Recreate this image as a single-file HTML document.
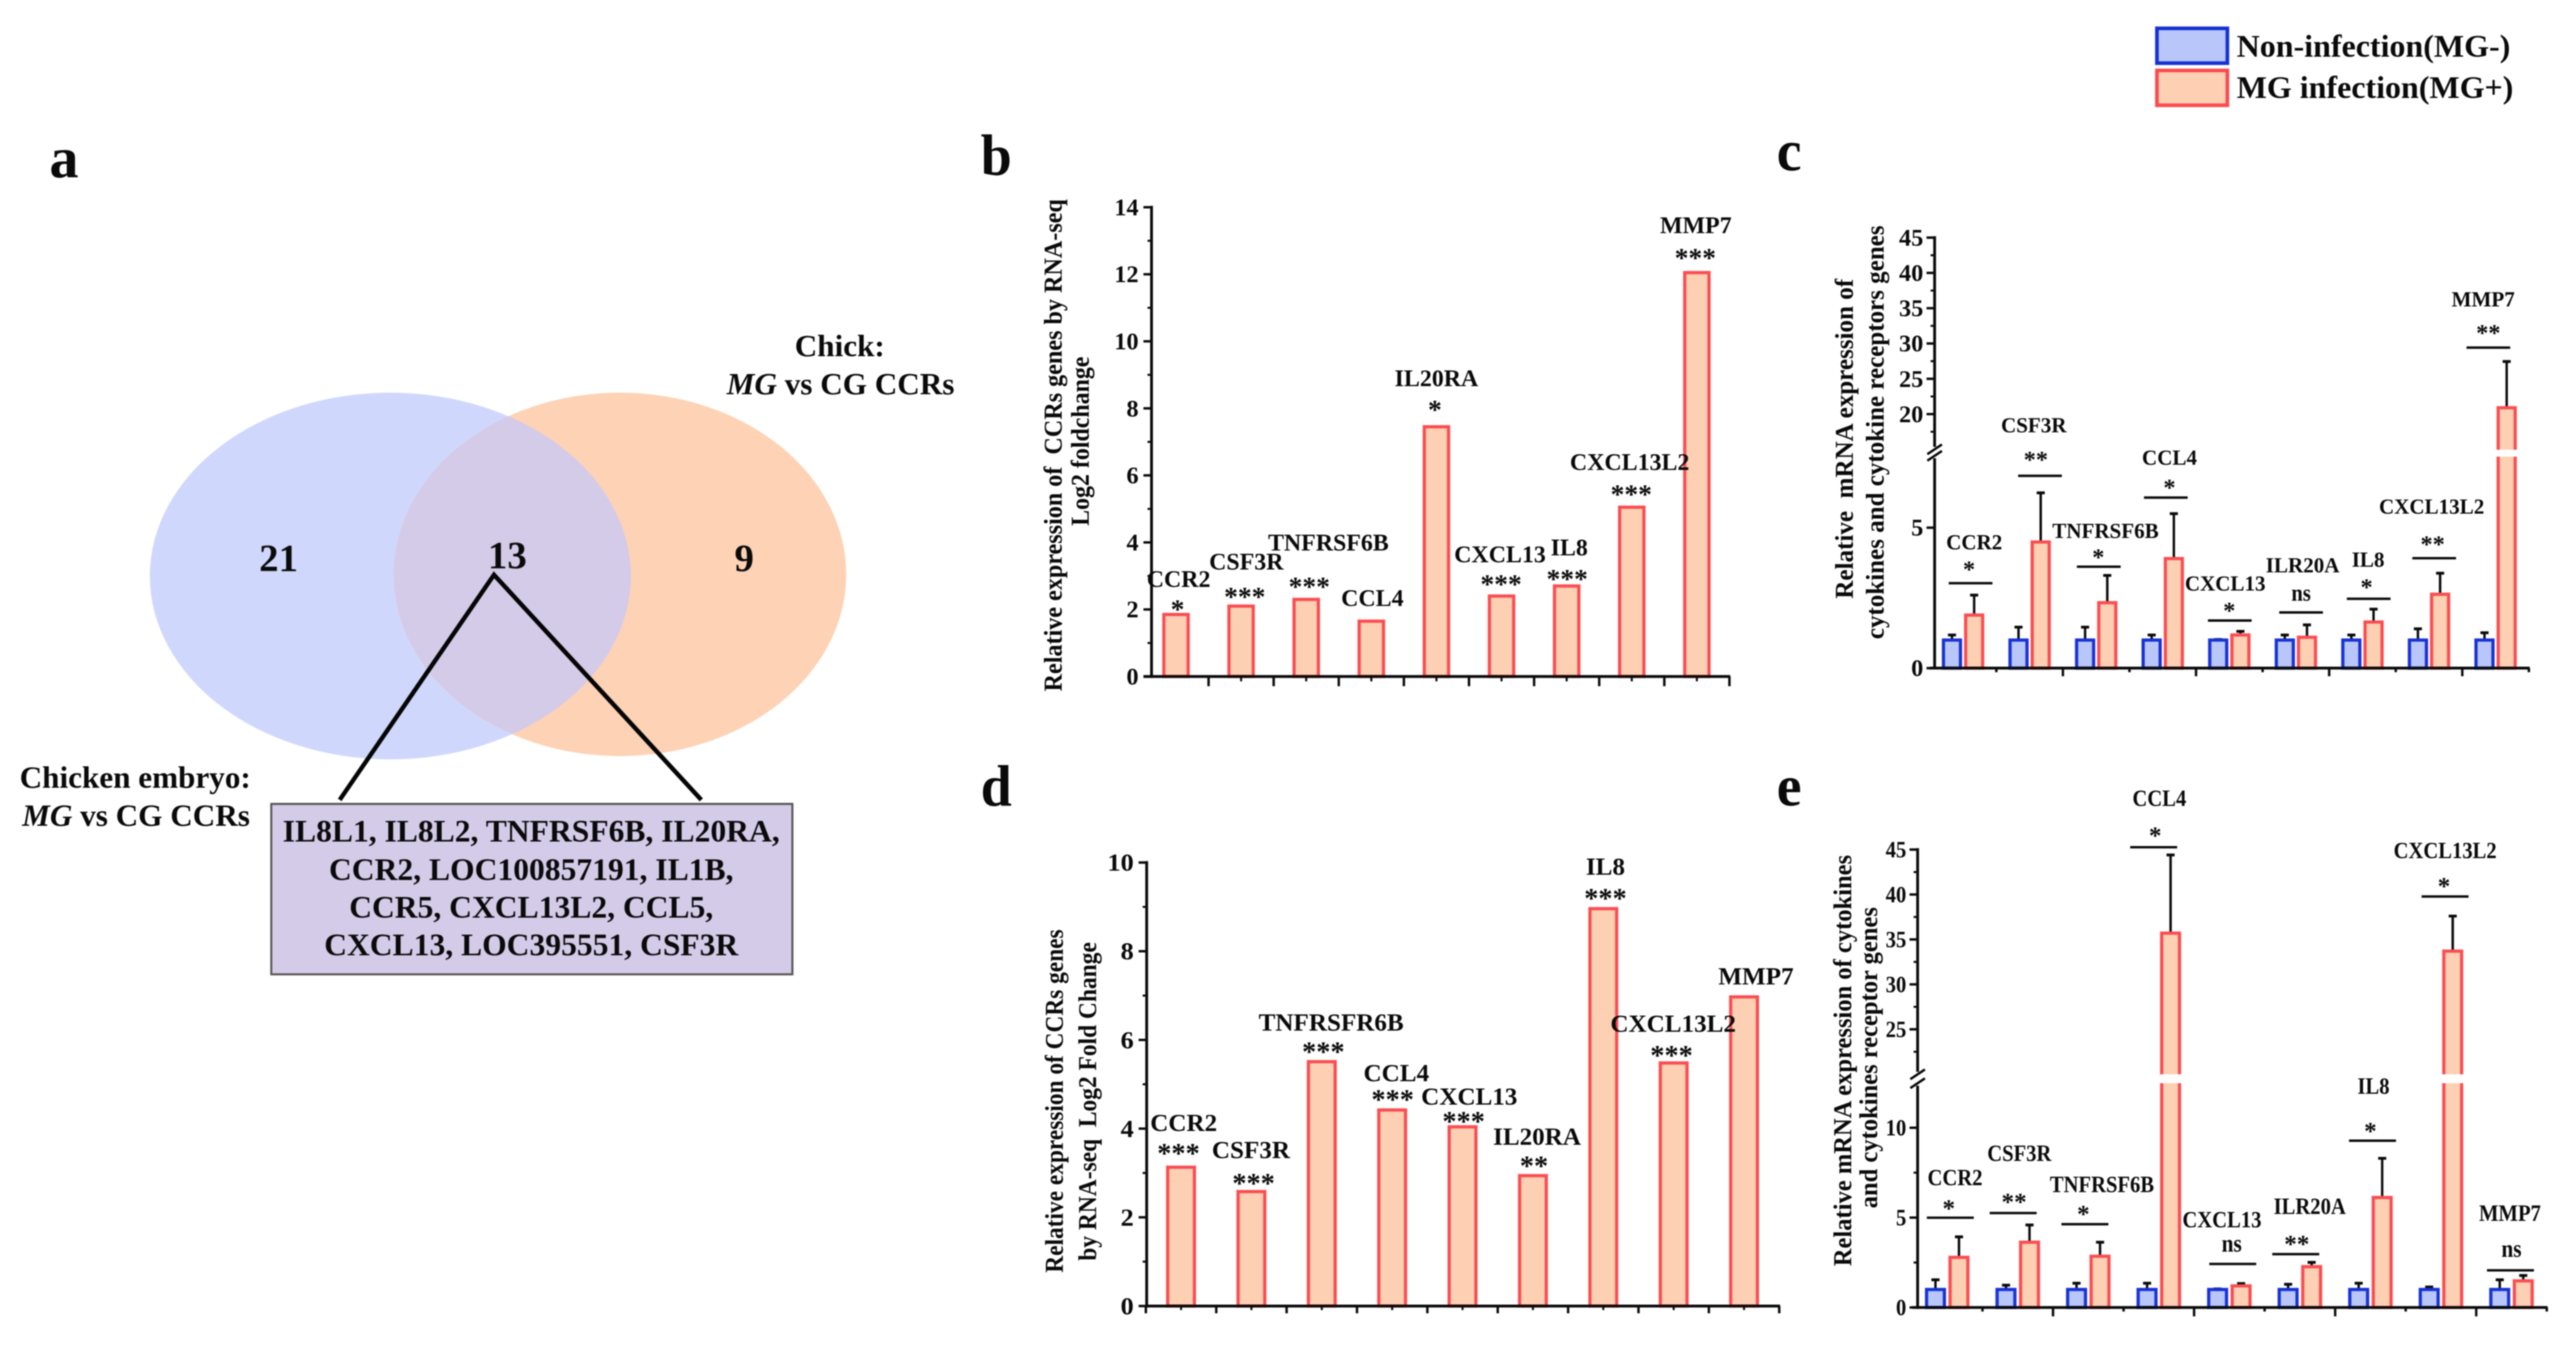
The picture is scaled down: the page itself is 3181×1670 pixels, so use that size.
<!DOCTYPE html>
<html lang="en">
<head>
<meta charset="utf-8">
<title>CCR gene expression figure</title>
<style>
html,body{margin:0;padding:0;background:#fff;width:3181px;height:1670px;overflow:hidden;}
#figure{display:block;width:3181px;height:1670px;filter:blur(0.8px);}
text{font-family:"Liberation Serif",serif;font-weight:bold;fill:#0a0a0a;white-space:pre;}
</style>
</head>
<body>
<svg id="figure" xmlns="http://www.w3.org/2000/svg" width="3181" height="1670" viewBox="0 0 3181 1670">
  <defs>
    <clipPath id="blue-clip"><ellipse cx="482" cy="711.5" rx="297" ry="226.5"/></clipPath>
  </defs>
  <rect width="3181" height="1670" fill="#fff"/>

  <g>
    <text x="61" y="219" font-size="72">a</text>
    <ellipse cx="482" cy="711.5" rx="297" ry="226.5" fill="#cfd8fc"/>
    <ellipse cx="765.5" cy="709.5" rx="279.5" ry="224.5" fill="#fdd2b5"/>
    <ellipse cx="765.5" cy="709.5" rx="279.5" ry="224.5" fill="#d4cbe8" clip-path="url(#blue-clip)"/>
    <text x="344" y="705.6" font-size="48" text-anchor="middle">21</text>
    <text x="626.5" y="702" font-size="48" text-anchor="middle">13</text>
    <text x="919" y="705.6" font-size="48" text-anchor="middle">9</text>
    <polyline points="419.5,988 610,710 866,988" fill="none" stroke="#050505" stroke-width="5.5"/>
    <text x="1037" y="440" font-size="38.5" text-anchor="middle">Chick:</text>
    <text x="1038" y="487" font-size="38.5" text-anchor="middle"><tspan font-style="italic">MG</tspan> vs CG CCRs</text>
    <text x="167" y="973" font-size="38.5" text-anchor="middle">Chicken embryo:</text>
    <text x="168" y="1020" font-size="38.5" text-anchor="middle"><tspan font-style="italic">MG</tspan> vs CG CCRs</text>
    <rect x="335" y="993" width="643.5" height="210.5" fill="#d4cbe8" stroke="#555" stroke-width="2.5"/>
    <g>
      <text x="656" y="1039.5" font-size="39" text-anchor="middle">IL8L1, IL8L2, TNFRSF6B, IL20RA,</text>
      <text x="656" y="1087" font-size="39" text-anchor="middle">CCR2, LOC100857191, IL1B,</text>
      <text x="656" y="1133.5" font-size="39" text-anchor="middle">CCR5, CXCL13L2, CCL5,</text>
      <text x="656" y="1180" font-size="39" text-anchor="middle">CXCL13, LOC395551, CSF3R</text>
    </g>
  </g>

  <g>
    <rect x="2663.5" y="35" width="87" height="43" fill="#b8c6fa" stroke="#1531d2" stroke-width="4.5"/>
    <text x="2762" y="70" font-size="39.5">Non-infection(MG-)</text>
    <rect x="2663.5" y="87" width="87" height="43" fill="#fdd0b3" stroke="#fb4a50" stroke-width="4.5"/>
    <text x="2762" y="121" font-size="39.5">MG infection(MG+)</text>
  </g>

  <g id="charts"></g>
</svg>

<script>
// ---------- chart data ----------
const bCategories = ['CCR2','CSF3R','TNFRSF6B','CCL4','IL20RA','CXCL13','IL8','CXCL13L2','MMP7'];
const bValues = [1.85,2.1,2.3,1.65,7.45,2.4,2.7,5.05,12.05];
const bStars = ['*','***','***','','*','***','***','***','***'];
const bTicks = [0,2,4,6,8,10,12,14];

const dCategories = ['CCR2','CSF3R','TNFRSFR6B','CCL4','CXCL13','IL20RA','IL8','CXCL13L2','MMP7'];
const dValues = [3.13,2.58,5.51,4.42,4.04,2.94,8.96,5.48,6.97];
const dStars = ['***','***','***','***','***','**','***','***',''];
const dTicks = [0,2,4,6,8,10];

const cCategories = ['CCR2','CSF3R','TNFRSF6B','CCL4','CXCL13','ILR20A','IL8','CXCL13L2','MMP7'];
const cControl = [1,1,1,1,1,1,1,1,1];
const cControlErrTop = [1.18,1.46,1.46,1.18,1.02,1.18,1.18,1.4,1.26];
const cInfected = [1.89,4.49,2.33,3.9,1.18,1.1,1.64,2.63,20.9];
const cInfectedErrTop = [2.6,6.24,3.3,5.5,1.31,1.54,2.1,3.38,27.45];
const cStars = ['*','**','*','*','*','ns','*','**','**'];
const cTicks = [0,5,20,25,30,35,40,45];

const eCategories = ['CCR2','CSF3R','TNFRSF6B','CCL4','CXCL13','ILR20A','IL8','CXCL13L2','MMP7'];
const eControl = [1,1,1,1,1,1,1,1,1];
const eControlErrTop = [1.54,1.24,1.35,1.35,1.03,1.29,1.35,1.14,1.54];
const eInfected = [2.79,3.63,2.85,35.7,1.2,2.27,6.12,33.7,1.48];
const eInfectedErrTop = [3.93,4.59,3.63,44.4,1.33,2.51,8.3,37.6,1.78];
const eStars = ['*','**','*','*','ns','**','*','*','ns'];
const eTicks = [0,5,10,25,30,35,40,45];

// ---------- annotation placement (hand-placed offsets from each mark, not data) ----------
const bNoteOffsets = [
  {sx:1.9,sy:11.5,lx:3.2,ly:33.8},{sx:4.5,sy:16.6,lx:6.4,ly:45.3},{sx:3.8,sy:21,lx:27.4,ly:60.6},
  {sx:0,sy:0,lx:1.3,ly:19},{sx:-1.9,sy:26,lx:0,ly:50.4},{sx:-0.6,sy:19.8,lx:-1.9,ly:41.5},
  {sx:0.6,sy:14,lx:3.2,ly:37.6},{sx:-0.6,sy:21,lx:-2.6,ly:46},{sx:-1.9,sy:23,lx:-1.3,ly:48.5}];
const dNoteOffsets = [
  {sx:-3.2,sy:22.3,lx:3.2,ly:44.6},{sx:2.6,sy:15.3,lx:-0.6,ly:41.5},{sx:1.9,sy:17.2,lx:11.5,ly:38.3},
  {sx:0.6,sy:17.9,lx:5.1,ly:35.7},{sx:1.3,sy:12,lx:8.3,ly:27.4},{sx:1.3,sy:17.2,lx:5.1,ly:38.3},
  {sx:2.6,sy:17.9,lx:2.6,ly:42},{sx:-2.6,sy:14.7,lx:-0.6,ly:38.3},{sx:0,sy:0,lx:14.7,ly:15.3}];
const cNoteOffsets = [
  {bx:9.3,by:14.7,sx:7.4,sy:21.7,lx:13.8,ly:42},{bx:12.8,by:21,sx:7.7,sy:24.2,lx:5.1,ly:53.6},
  {bx:3.2,by:10.8,sx:2.6,sy:16,lx:11.5,ly:35.7},{bx:3.8,by:19.8,sx:8.3,sy:16.6,lx:8.3,ly:40.8},
  {bx:0.6,by:13.4,sx:0,sy:16.6,lx:-5.1,ly:37},{bx:6.4,by:15.3,sx:6.4,sy:21,lx:8.3,ly:49.7},
  {bx:7.7,by:12.8,sx:5.1,sy:18.5,lx:7,ly:39.5},{bx:6.4,by:18.5,sx:4.5,sy:21.7,lx:3.2,ly:54.8},
  {bx:-8.9,by:17.2,sx:-8.9,sy:22.3,lx:-15.3,ly:51}];
const eNoteOffsets = [
  {bx:3.8,by:23.6,sx:1.9,sy:16,lx:9.6,ly:40},{bx:-5.7,by:14.7,sx:-4.5,sy:18.5,lx:1.9,ly:64.4},
  {bx:-4.2,by:22.3,sx:-6.1,sy:17.2,lx:16.9,ly:39.5},{bx:-6.4,by:9.6,sx:-4.5,sy:19,lx:0.6,ly:51},
  {bx:4.2,by:24.2,sx:2.9,sy:22.3,lx:-9.2,ly:45.3},{bx:-5.1,by:10.2,sx:-3.8,sy:17.2,lx:12.1,ly:49.7},
  {bx:2.6,by:21.7,sx:0,sy:16.6,lx:3.8,ly:58},{bx:5.1,by:24.2,sx:3.8,sy:17.2,lx:5.1,ly:47.2},
  {bx:-1.3,by:6.4,sx:0,sy:23.6,lx:-1.9,ly:61.2}];

// ---------- drawing helpers ----------
const SVGNS = 'http://www.w3.org/2000/svg';
const RED = '#fb4d52', PEACH = '#fdd0b3', BLUE = '#1733d6', PERI = '#b8c6fa', INK = '#0a0a0a';
const root = document.getElementById('charts');

function add(parent, tag, attrs) {
  const el = document.createElementNS(SVGNS, tag);
  for (const k in attrs) el.setAttribute(k, attrs[k]);
  parent.appendChild(el);
  return el;
}
function addLine(parent, x1, y1, x2, y2, w, color) {
  return add(parent, 'line', {x1:x1, y1:y1, x2:x2, y2:y2, stroke:color || INK, 'stroke-width':w});
}
function addText(parent, x, y, str, size, squeeze, anchor) {
  const el = add(parent, 'text', {
    transform:'translate(' + x + ' ' + y + ') scale(' + squeeze + ' 1)',
    'font-size':size, 'text-anchor':anchor || 'middle'
  });
  el.textContent = str;
  return el;
}
function slug(s) { return String(s).toLowerCase().replace(/[^a-z0-9]+/g, '-'); }

function linearY(y0, pxPerUnit) { return function (v) { return y0 - v * pxPerUnit; }; }
function brokenY(cfg) {
  return function (v) {
    if (v <= cfg.lowMax) return cfg.y0 - v * cfg.lowK;
    return cfg.refY - (v - cfg.refV) * cfg.highK;
  };
}
function bandCenter(p, i, frac) { return p.x0 + p.band * (i + frac); }

function drawLetter(ch, x, y) {
  const t = addText(root, x, y, ch, 72, 0.96, 'start');
  
  
}

function drawTitle(g, str, x, y, len, size, idx) {
  const t = add(g, 'text', {
    transform:'translate(' + x + ' ' + y + ') rotate(-90)',
    'font-size':size, 'text-anchor':'middle', textLength:len, lengthAdjust:'spacingAndGlyphs'
  });
  t.textContent = str;
  
  
}

function drawAxes(g, p, y, ticks) {
  const axis = add(g, 'g', {});
  
  
  const w = p.axisW;
  // x axis
  const xa = addLine(axis, p.x0, p.y0, p.x0 + p.band * 9 + 1, p.y0, w);
  
  
  // y axis
  if (p.brk) {
    const lowSeg = addLine(axis, p.axisX, p.y0 + w / 2, p.axisX, p.brk.axisLowTop, w);
    
    
    const highSeg = addLine(axis, p.axisX, p.brk.axisHighBottom, p.axisX, y(p.yMax) - w / 2, w);
    
    
    [p.brk.axisHighBottom + 3, p.brk.axisLowTop - 3].forEach(function (yy) {
      const sl = addLine(axis, p.axisX - 9, yy + 6, p.axisX + 9, yy - 6, 3);
      
      
    });
  } else {
    const ya = addLine(axis, p.axisX, p.y0 + w / 2, p.axisX, y(p.yMax) - w / 2, w);
    
    
  }
  // y ticks and labels
  ticks.forEach(function (v) {
    const yy = y(v);
    const tk = addLine(axis, p.axisX - p.yMajor, yy, p.axisX, yy, 3);
    
    
    const lb = addText(axis, p.tickX, yy + p.tickSize * 0.33, String(v), p.tickSize, p.tickSqueeze, 'end');
    
    
  });
  p.minorTicks.forEach(function (v) {
    const yy = y(v);
    const mt = addLine(axis, p.axisX - p.yMinor, yy, p.axisX, yy, 2.5);
    
    
  });
  // x ticks
  for (let i = 0; i <= 9; i++) {
    if (p.grouped && i === 0) continue;
    const long = p.grouped ? i % 2 === 0 : true;
    const xx = p.x0 + p.band * i;
    if (i === 0 && !p.showFirstX) continue;
    const tk = addLine(axis, xx, p.y0, xx, p.y0 + (long ? p.xMajor : p.xMinor), 3);
    
    
    if (!p.grouped && i < 9) {
      const cx = p.x0 + p.band * (i + 0.5);
      const mt = addLine(axis, cx, p.y0, cx, p.y0 + p.xMinor, 2.5);
      
      
    }
  }
}

function drawBar(g, cx, width, v, y, p, fill, stroke, name) {
  const sw = 4;
  const top = y(v);
  const bar = add(g, 'rect', {
    x:cx - width / 2 + sw / 2, y:top, width:width - sw, height:p.y0 - top,
    fill:fill, stroke:stroke, 'stroke-width':sw
  });
  
  
  if (p.brk && top < p.brk.gapTop) {
    const gap = add(g, 'rect', {
      x:cx - width / 2 - 2, y:p.brk.gapTop, width:width + 4, height:p.brk.gapBottom - p.brk.gapTop, fill:'#fff'
    });
    
    
  }
}

function drawError(g, cx, fromV, toV, y, name) {
  const y1 = y(fromV), y2 = y(toV);
  const stem = addLine(g, cx, y1, cx, y2, 3);
  
  
  const cap = addLine(g, cx - 5, y2, cx + 5, y2, 3.5);
  
  
}

function drawStars(g, x, centerY, str, size, category) {
  if (!str) return;
  const isNs = str === 'ns';
  const base = isNs ? centerY + size * 0.22 : centerY + size * 0.47;
  const s = addText(g, x, base, str, size, isNs ? 0.85 : 1);
  
  
}

function drawGeneLabel(g, x, y, str, p) {
  const t = addText(g, x, y, str, p.labelSize, p.labelSqueeze);
  
  
}

function drawSimplePanel(name, p, cats, vals, stars, ticks, notes) {
  const g = add(root, 'g', {});
  
  
  const y = linearY(p.y0, p.k);
  cats.forEach(function (cat, i) {
    drawBar(g, bandCenter(p, i, 0.5), p.barW, vals[i], y, p, PEACH, RED, 'bar-' + slug(cat));
  });
  cats.forEach(function (cat, i) {
    const cx = bandCenter(p, i, 0.5);
    const n = notes[i], top = y(vals[i]);
    drawStars(g, cx + n.sx, top - n.sy, stars[i], p.starSize, cat);
    drawGeneLabel(g, cx + n.lx, top - n.ly, cat, p);
  });
  drawAxes(g, p, y, ticks);
  p.titles.forEach(function (tt, i) { drawTitle(g, tt[0], tt[1], tt[2], tt[3], tt[4], i + 1); });
}

function drawGroupedPanel(name, p, cats, ctrl, ctrlErr, inf, infErr, stars, ticks, notes) {
  const g = add(root, 'g', {});
  
  
  const y = brokenY(p.scale);
  cats.forEach(function (cat, i) {
    const cb = bandCenter(p, i, 1 / 3), cr = bandCenter(p, i, 2 / 3);
    drawError(g, cb, ctrl[i], ctrlErr[i], y, 'error-control-' + slug(cat));
    drawError(g, cr, inf[i], infErr[i], y, 'error-infected-' + slug(cat));
    drawBar(g, cb, p.barW, ctrl[i], y, p, PERI, BLUE, 'bar-control-' + slug(cat));
    drawBar(g, cr, p.barW, inf[i], y, p, PEACH, RED, 'bar-infected-' + slug(cat));
  });
  cats.forEach(function (cat, i) {
    const cc = bandCenter(p, i, 0.5);
    const n = notes[i];
    const lineY = y(infErr[i]) - n.by;
    const sb = addLine(g, cc + n.bx - p.sigHalf, lineY, cc + n.bx + p.sigHalf, lineY, 3);
    
    
    drawStars(g, cc + n.sx, lineY - n.sy, stars[i], p.starSize, cat);
    drawGeneLabel(g, cc + n.lx, lineY - n.ly, cat, p);
  });
  drawAxes(g, p, y, ticks);
  p.titles.forEach(function (tt, i) { drawTitle(g, tt[0], tt[1], tt[2], tt[3], tt[4], i + 1); });
}

// ---------- panels ----------
drawLetter('b', 1211, 216);
drawLetter('c', 2194, 210.5);
drawLetter('d', 1211, 995);
drawLetter('e', 2194, 995);

drawSimplePanel('panel-b-rna-seq-chick', {
  x0:1412, band:80.4, y0:835.6, k:41.4, yMax:14, axisX:1422, axisW:3.5, barW:34,
  yMajor:10, yMinor:5, xMajor:12, xMinor:6, tickX:1406, tickSize:30, tickSqueeze:1,
  minorTicks:[1,3,5,7,9,11,13], labelSize:29.5, labelSqueeze:1, starSize:34, showFirstX:false,
  titles:[['Relative expression of  CCRs genes by RNA-seq',1311,550,608,32],['Log2 foldchange',1344.5,545,209,32]]
}, bCategories, bValues, bStars, bTicks, bNoteOffsets);

drawSimplePanel('panel-d-rna-seq-embryo', {
  x0:1415, band:86.9, y0:1613.2, k:54.78, yMax:10, axisX:1416, axisW:3.5, barW:37,
  yMajor:10, yMinor:5, xMajor:9, xMinor:5, tickX:1400, tickSize:31, tickSqueeze:1.05,
  minorTicks:[1,3,5,7,9], labelSize:31, labelSqueeze:1, starSize:35, showFirstX:true,
  titles:[['Relative expression of CCRs genes',1312.5,1360,424,32],['by RNA-seq  Log2 Fold Change',1353.5,1360.5,393.5,32]]
}, dCategories, dValues, dStars, dTicks, dNoteOffsets);

drawGroupedPanel('panel-c-qpcr-chick', {
  grouped:true, x0:2383, band:82.2, y0:825.3, yMax:45, axisX:2389, axisW:3.5, barW:25,
  scale:{y0:825.3, lowK:34.7, lowMax:10, refY:511.5, refV:20, highK:8.72},
  brk:{gapTop:555.5, gapBottom:564, axisLowTop:566, axisHighBottom:552},
  yMajor:10, yMinor:5, xMajor:10, xMinor:5, tickX:2375, tickSize:30, tickSqueeze:1,
  minorTicks:[17.5,22.5,27.5,32.5,37.5,42.5], labelSize:26, labelSqueeze:1, starSize:30, sigHalf:27,
  titles:[['Relative  mRNA expression of',2288,542,395,32],['cytokines and cytokine receptors genes',2326,534,511,32]]
}, cCategories, cControl, cControlErrTop, cInfected, cInfectedErrTop, cStars, cTicks, cNoteOffsets);

drawGroupedPanel('panel-e-qpcr-embryo', {
  grouped:true, x0:2361, band:87.1, y0:1615, yMax:45, axisX:2368, axisW:3.5, barW:26,
  scale:{y0:1615, lowK:22.2, lowMax:15, refY:1271.4, refV:25, highK:11.1},
  brk:{gapTop:1327, gapBottom:1338, axisLowTop:1341, axisHighBottom:1324},
  yMajor:10, yMinor:5, xMajor:11, xMinor:5, tickX:2354, tickSize:29, tickSqueeze:0.88,
  minorTicks:[2.5,7.5,22.5,27.5,32.5,37.5,42.5], labelSize:28, labelSqueeze:0.91, starSize:31, sigHalf:29,
  titles:[['Relative mRNA expression of cytokines',2286,1310,508,32],['and cytokines receptor genes',2318,1306.5,372,32]]
}, eCategories, eControl, eControlErrTop, eInfected, eInfectedErrTop, eStars, eTicks, eNoteOffsets);
</script>
</body>
</html>
